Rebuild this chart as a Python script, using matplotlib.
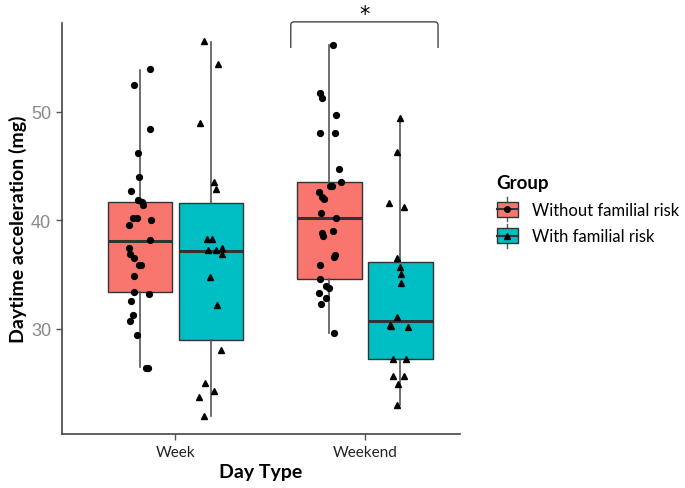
import matplotlib.pyplot as plt
from matplotlib.patches import Rectangle, PathPatch
from matplotlib.path import Path
from matplotlib.lines import Line2D
from matplotlib.legend_handler import HandlerBase

plt.rcParams['font.family'] = ['Lato', 'DejaVu Sans']

days = ["Week", "Weekend"]
groups = ["Without familial risk", "With familial risk"]
fills = ["#F8766D", "#00BFC4"]
marks = ["o", "^"]

# box stats: whislo, q1, median, q3, whishi
box_without = [[26.5, 33.4, 38.1, 41.7, 53.9],
               [29.6, 34.6, 40.2, 43.55, 56.2]]
box_with = [[22.0, 29.0, 37.2, 41.6, 56.4],
            [23.0, 27.2, 30.75, 36.2, 49.4]]

# points (value, horizontal jitter as seen in the picture)
week_without = [54.0, 52.5, 48.45, 46.2, 44.0, 42.7, 41.9, 41.7, 41.4, 40.2, 40.2, 40.0, 39.6, 38.2,
                37.5, 36.9, 36.5, 35.9, 35.9, 34.9, 33.4, 33.2, 32.6, 31.3, 30.75, 29.4, 26.4, 26.4]
week_without_jit = [0.055, -0.029, 0.052, -0.010, -0.003, -0.048, -0.011, 0.011, 0.017, -0.036, -0.015, 0.061, -0.055, 0.055,
                    -0.059, -0.050, -0.032, -0.006, 0.006, -0.032, -0.029, 0.048, -0.045, -0.038, -0.052, -0.018, 0.032, 0.041]
week_with = [56.5, 54.4, 49.0, 43.5, 42.9, 38.25, 38.25, 37.3, 37.3, 37.45, 36.9, 34.8, 32.2, 28.1,
             25.0, 24.3, 23.7, 22.0]
week_with_jit = [-0.036, 0.036, -0.057, 0.018, 0.025, -0.018, 0.006, -0.017, 0.025, 0.059, 0.058, -0.006, 0.032, 0.052,
                 -0.029, 0.018, -0.062, -0.038]
weekend_without = [56.2, 51.7, 51.3, 49.7, 48.1, 48.05, 44.7, 43.55, 43.2, 43.2, 42.6, 42.2, 42.0, 40.7,
                   40.2, 39.0, 38.8, 38.6, 36.8, 36.6, 35.9, 34.6, 34.0, 33.8, 33.3, 32.85, 32.3, 29.6]
weekend_without_jit = [0.017, -0.050, -0.039, 0.036, -0.048, 0.031, 0.048, 0.059, 0.003, 0.011, -0.054, -0.039, -0.031, -0.045,
                       0.032, 0.020, -0.041, -0.036, 0.031, 0.024, -0.050, -0.050, -0.017, -0.001, -0.055, -0.018, -0.045, 0.024]
weekend_with = [49.4, 46.3, 41.6, 41.2, 36.5, 35.7, 35.1, 34.2, 31.1, 30.35, 30.3, 30.15, 27.25, 27.2,
                25.7, 25.7, 24.9, 23.0]
weekend_with_jit = [-0.001, -0.015, -0.062, 0.020, -0.020, -0.001, 0.006, 0.003, -0.018, -0.055, -0.050, 0.038, -0.038, 0.029,
                    -0.038, 0.018, -0.010, -0.015]

boxes = [box_without, box_with]
points = [[(week_without, week_without_jit), (weekend_without, weekend_without_jit)],
          [(week_with, week_with_jit), (weekend_with, weekend_with_jit)]]

dodge = 0.187
bw = 0.34
edge = "#333333"
line_c = "#555555"


class BoxKey(HandlerBase):
    def __init__(self, color, marker):
        super().__init__()
        self.color = color
        self.marker = marker

    def create_artists(self, legend, orig_handle, xdescent, ydescent, width, height, fontsize, trans):
        x0, y0 = -xdescent, -ydescent
        cx = x0 + width / 2
        whisk = Line2D([cx, cx], [y0 - 0.3 * height, y0 + 1.3 * height], color=line_c, lw=1, transform=trans)
        box = Rectangle((x0, y0), width, height, facecolor=self.color, edgecolor=edge, lw=1, transform=trans)
        med = Line2D([x0, x0 + width], [y0 + height / 2] * 2, color=edge, lw=1.5, transform=trans)
        mk = Line2D([cx], [y0 + height / 2], marker=self.marker, color="black", ms=4, ls="", transform=trans)
        return [whisk, box, med, mk]


fig = plt.figure(figsize=(6.85, 4.89), dpi=100)
ax = fig.add_axes([0.090, 0.110, 0.581, 0.841])

xpos = [1, 2]
for g in range(2):
    off = -dodge if g == 0 else dodge
    stats = []
    for d in range(2):
        lo, q1, med, q3, hi = boxes[g][d]
        stats.append(dict(whislo=lo, q1=q1, med=med, q3=q3, whishi=hi, fliers=[]))
    ax.bxp(stats, positions=[p + off for p in xpos], widths=bw, patch_artist=True,
           showcaps=False, showfliers=False,
           boxprops=dict(facecolor=fills[g], edgecolor=edge, linewidth=1),
           whiskerprops=dict(color=line_c, linewidth=1.2),
           medianprops=dict(color=edge, linewidth=2.2))
    for d in range(2):
        vals, jit = points[g][d]
        xs = [xpos[d] + off + j for j in jit]
        ax.plot(xs, vals, ls="", marker=marks[g], color="black",
                ms=4.2 if g == 0 else 4.8, zorder=5)

ax.set_xlim(0.4, 2.5)
ax.set_ylim(20.3, 58.2)
ax.set_xticks(xpos)
ax.set_xticklabels(days, fontsize=11, color="#222222")
ax.set_yticks([30, 40, 50])
ax.set_yticklabels(["30", "40", "50"], fontsize=13, color="#8a8a8a", family="Liberation Sans")
ax.tick_params(axis="both", length=4, color="#555555", width=1)
for s in ["top", "right"]:
    ax.spines[s].set_visible(False)
for s in ["left", "bottom"]:
    ax.spines[s].set_color("#444444")
    ax.spines[s].set_linewidth(1.2)
ax.set_xlabel("Day Type", fontsize=14, fontweight="bold", labelpad=3)
ax.set_ylabel("Daytime acceleration (mg)", fontsize=14, fontweight="bold", labelpad=3)

# significance bracket with slightly rounded corners
bx0, bx1, by0, by1 = 1.609, 2.386, 55.9, 58.3
r = 0.3
verts = [(bx0, by0), (bx0, by1 - r), (bx0, by1), (bx0 + 0.02, by1),
         (bx1 - 0.02, by1), (bx1, by1), (bx1, by1 - r), (bx1, by0)]
codes = [Path.MOVETO, Path.LINETO, Path.CURVE3, Path.CURVE3,
         Path.LINETO, Path.CURVE3, Path.CURVE3, Path.LINETO]
ax.add_patch(PathPatch(Path(verts, codes), fill=False, edgecolor="#444444", lw=1, clip_on=False))
ax.text((bx0 + bx1) / 2, 59.05, "*", ha="center", va="center", fontsize=15,
        family="DejaVu Sans", clip_on=False)

handles = [Rectangle((0, 0), 1, 1) for _ in groups]
hmap = {h: BoxKey(fills[i], marks[i]) for i, h in enumerate(handles)}
leg = fig.legend(handles, groups, handler_map=hmap, loc="upper left",
                 bbox_to_anchor=(0.703, 0.672), frameon=False, title="Group",
                 fontsize=12, handlelength=1.3, handleheight=1.0, handletextpad=0.8,
                 labelspacing=0.62, alignment="left")
leg.get_title().set_fontweight("bold")
leg.get_title().set_fontsize(13.5)

fig.savefig("out.png", dpi=100)
